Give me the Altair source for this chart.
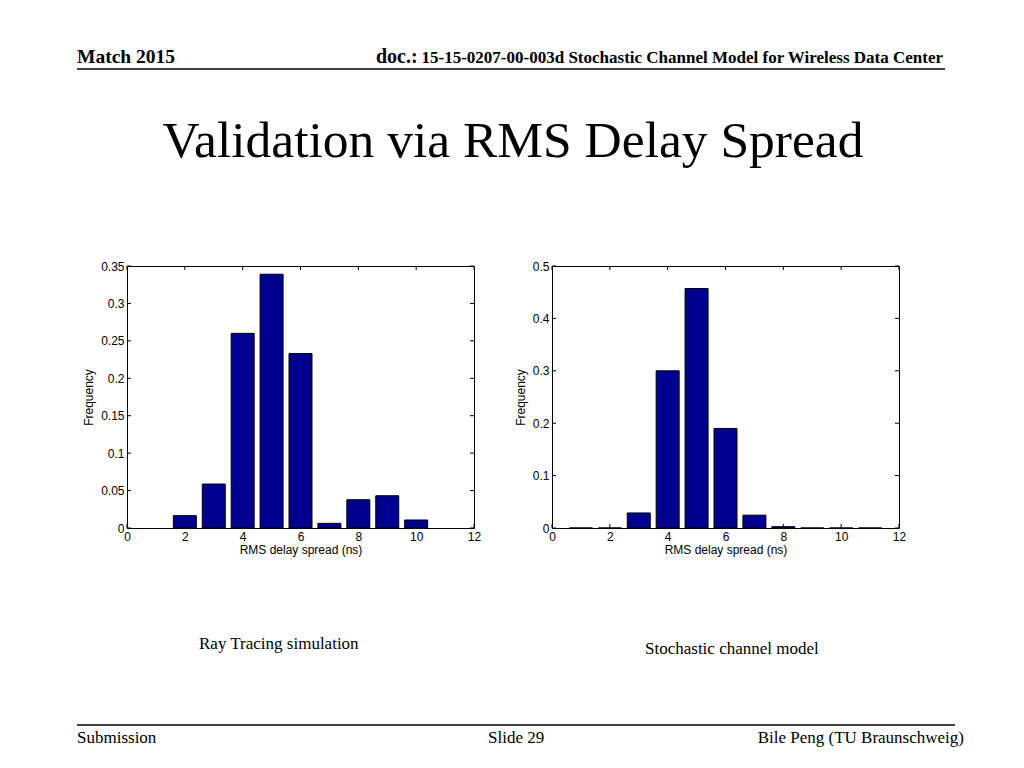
import altair as alt
import pandas as pd

# ---- data ----
centers_raytracing = [2, 3, 4, 5, 6, 7, 8, 9, 10]
freq_raytracing = [0.0165, 0.0587, 0.260, 0.339, 0.233, 0.0062, 0.0378, 0.0431, 0.0107]
centers_stochastic = [1, 2, 3, 4, 5, 6, 7, 8, 9, 10, 11]
freq_stochastic = [0.0, 0.0, 0.0287, 0.300, 0.457, 0.190, 0.0245, 0.0025, 0.0, 0.0, 0.0]
x_ticks = [0, 2, 4, 6, 8, 10, 12]
y_ticks_left = [0, 0.05, 0.1, 0.15, 0.2, 0.25, 0.3, 0.35]
y_ticks_right = [0, 0.1, 0.2, 0.3, 0.4, 0.5]

slide_title = "Validation via RMS Delay Spread"
header_left = "Match 2015"
header_doc = "doc.:"
header_right = "15-15-0207-00-003d Stochastic Channel Model for Wireless Data Center"
caption_left = "Ray Tracing simulation"
caption_right = "Stochastic channel model"
footer_left = "Submission"
footer_mid = "Slide 29"
footer_right = "Bile Peng (TU Braunschweig)"

W, H = 347, 262
OX, OY = 128, 266  # page position of the left plot area origin
SANS = "Liberation Sans"
SERIF = "Liberation Serif"
BAR = "#00008F"


def histogram(centers, freqs, ymax, yticks):
    df = pd.DataFrame({"c": centers, "f": freqs})
    xs = alt.Scale(domain=[0, 12], nice=False, zero=False, padding=0)
    ys = alt.Scale(domain=[0, ymax], nice=False, padding=0)
    xaxis = alt.Axis(values=x_ticks, ticks=False, domain=False, grid=False,
                     labelFlush=False, labelFont=SANS, labelFontSize=12,
                     labelColor="black", labelPadding=3,
                     titleFont=SANS, titleFontSize=12, titleFontWeight="normal",
                     titleColor="black", titlePadding=2)
    yaxis = alt.Axis(values=yticks, format="~g", ticks=False, domain=False, grid=False,
                     labelFlush=False,
                     labelFont=SANS, labelFontSize=12, labelColor="black",
                     labelPadding=3, titleFont=SANS, titleFontSize=12,
                     titleFontWeight="normal", titleColor="black", titlePadding=5)
    xt = pd.DataFrame({"v": x_ticks})
    yt = pd.DataFrame({"w": yticks})
    X = lambda f: alt.X(f, scale=xs, axis=xaxis, title="RMS delay spread (ns)")
    Y = lambda f: alt.Y(f, scale=ys, axis=yaxis, title="Frequency")

    tb = alt.Chart(xt).mark_rule(color="black").encode(
        x=X("v:Q"), y=alt.value(H), y2=alt.value(H - 4))
    tt = alt.Chart(xt).mark_rule(color="black").encode(
        x=X("v:Q"), y=alt.value(0), y2=alt.value(4))
    tl = alt.Chart(yt).mark_rule(color="black").encode(
        y=Y("w:Q"), x=alt.value(0), x2=alt.value(4))
    tr = alt.Chart(yt).mark_rule(color="black").encode(
        y=Y("w:Q"), x=alt.value(W - 4), x2=alt.value(W))
    bars = alt.Chart(df).mark_bar(color=BAR, stroke="black", strokeWidth=1, size=23).encode(
        x=X("c:Q"), y=Y("f:Q"))
    return [tb, tt, tl, tr, bars]


def txt(s, x, y, size, weight="normal", align="left"):
    return alt.Chart(pd.DataFrame({"t": [s]})).mark_text(
        align=align, baseline="alphabetic", font=SERIF, fontSize=size,
        fontWeight=weight, color="black").encode(
        x=alt.value(x - OX), y=alt.value(y - OY), text="t:N")


def hline(x1, x2, y, sw=1.5, color="black"):
    return alt.Chart(pd.DataFrame({"a": [0]})).mark_rule(color=color, strokeWidth=sw).encode(
        x=alt.value(x1 - OX), x2=alt.value(x2 - OX), y=alt.value(y - OY))


decor = [
    hline(10.5, 20, 9.5, sw=1, color="white"),  # anchors the page corner
    txt(header_left, 78, 63, 19.5, "bold"),
    txt(header_doc, 377, 63, 20, "bold"),
    txt(header_right, 944, 63, 17, "bold", "right"),
    hline(78, 946, 69),
    txt(slide_title, 514, 157, 51.5, align="center"),
    txt(caption_left, 200, 649, 17),
    txt(caption_right, 646, 654, 17),
    hline(78, 956, 725),
    txt(footer_left, 78, 743, 17),
    txt(footer_mid, 489, 743, 17),
    txt(footer_right, 965, 743, 17, align="right"),
]

left = alt.layer(*histogram(centers_raytracing, freq_raytracing, 0.35, y_ticks_left),
                 *decor).properties(width=W, height=H)
right = alt.layer(*histogram(centers_stochastic, freq_stochastic, 0.5, y_ticks_right)
                  ).properties(width=W, height=H)

chart = alt.hconcat(left, right, spacing=78, bounds="flush").properties(
    padding=0, background="white"
).configure_view(stroke="black", strokeWidth=1)

chart.save("out.html", embed_options={"renderer": "svg", "actions": False})
